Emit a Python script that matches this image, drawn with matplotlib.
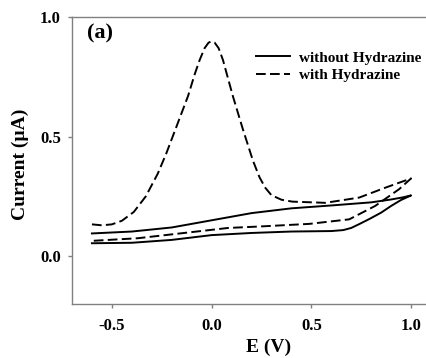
import numpy as np
import matplotlib
matplotlib.use("Agg")
import matplotlib.pyplot as plt

# without hydrazine: forward (upper) branch then back (lower) branch
e_blank = [-0.60, -0.40, -0.20, 0.00, 0.20, 0.40, 0.60, 0.80, 0.90, 0.96, 1.00,
           0.95, 0.90, 0.85, 0.79, 0.74, 0.70, 0.66, 0.60, 0.40, 0.20, 0.00,
           -0.20, -0.40, -0.60]
i_blank = [0.095, 0.103, 0.120, 0.150, 0.180, 0.200, 0.212, 0.225, 0.237, 0.246, 0.254,
           0.235, 0.210, 0.182, 0.155, 0.134, 0.118, 0.109, 0.105, 0.103, 0.097, 0.088,
           0.068, 0.056, 0.054]

# with hydrazine
e_hyd = [-0.60, -0.55, -0.50, -0.45, -0.39, -0.33, -0.27, -0.227, -0.177, -0.118, -0.085,
         -0.06, -0.035, -0.015, 0.00, 0.015, 0.035, 0.057, 0.08, 0.107, 0.157, 0.207,
         0.24, 0.27, 0.30, 0.35, 0.405, 0.57, 0.74, 0.87, 1.00,
         0.94, 0.82, 0.69, 0.49, 0.24, 0.083, -0.117, -0.37, -0.60]
i_hyd = [0.133, 0.129, 0.133, 0.148, 0.185, 0.25, 0.345, 0.43, 0.54, 0.67, 0.76,
         0.82, 0.87, 0.893, 0.898, 0.893, 0.87, 0.82, 0.75, 0.668, 0.53, 0.40,
         0.33, 0.285, 0.255, 0.236, 0.228, 0.223, 0.245, 0.286, 0.325,
         0.28, 0.21, 0.154, 0.135, 0.124, 0.118, 0.099, 0.075, 0.064]

xticks = [-0.5, 0.0, 0.5, 1.0]
yticks = [0.0, 0.5, 1.0]

plt.rcParams['font.family'] = ['Liberation Serif', 'DejaVu Serif']
plt.rcParams['font.weight'] = 'bold'

fig = plt.figure(figsize=(4.27, 3.58), dpi=100)
ax = fig.add_axes([72/427, 54/358, 359/427, 287/358])

ax.plot(e_blank, i_blank, color='black', lw=1.4, label='without Hydrazine')
ax.plot(e_hyd, i_hyd, color='black', lw=1.4, dashes=(5.0, 2.2), label='with Hydrazine')

ax.set_xlim(-0.7, 1.1)
ax.set_ylim(-0.2, 1.0)
ax.set_xticks(xticks)
ax.set_yticks(yticks)
ax.set_xticklabels([f"{v:.1f}" for v in xticks])
ax.set_yticklabels([f"{v:.1f}" for v in yticks])

for s in ['left', 'bottom', 'top', 'right']:
    ax.spines[s].set_color('#808080')
    ax.spines[s].set_linewidth(1.0)
ax.tick_params(axis='both', direction='out', length=3, width=1, color='#808080',
               labelsize=12)
ax.tick_params(axis='x', pad=7)
ax.tick_params(axis='y', pad=5)

ax.set_xlabel('E (V)', fontsize=14, fontweight='bold', va='top')
ax.xaxis.set_label_coords((269-72)/359, (304-339)/287)
ax.set_ylabel('Current (\u00b5A)', fontsize=14, fontweight='bold')
ax.yaxis.set_label_coords((29-72)/359, (304-164)/287)

ax.text(0.077, 0.941, '(a)', transform=ax.transAxes, fontsize=16,
        fontweight='bold', ha='center', va='center')

leg = ax.legend(loc='upper left', bbox_to_anchor=(256/427, 1 - 51/358),
                bbox_transform=fig.transFigure, frameon=False, fontsize=11,
                borderpad=0, borderaxespad=0, handlelength=2.2,
                handletextpad=0.6, labelspacing=0.25)

fig.savefig('out.png', dpi=100)
